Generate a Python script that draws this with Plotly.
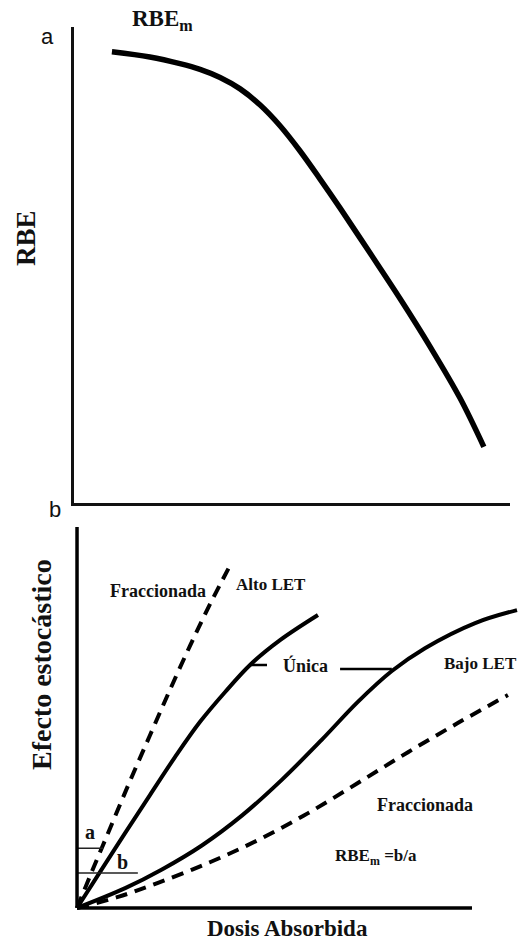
import plotly.graph_objects as go

W, H = 518, 941

# ---- Panel a: RBE versus dose (arbitrary units, 0-100) ----
rbe_dose = [8.7, 17.4, 24.3, 28.9, 33.5, 38.1, 42.7, 47.3, 51.8, 56.4, 61.0, 67.9, 74.8, 81.7, 88.5, 94.0]
rbe_val = [94.8, 93.7, 92.3, 91.1, 89.4, 87.0, 83.6, 79.2, 74.0, 68.1, 62.0, 52.5, 42.9, 32.8, 22.1, 11.8]

# ---- Panel b: stochastic effect versus absorbed dose (arbitrary units) ----
alto_frac_x = [0, 3.3, 8.4, 13.4, 18.5, 23.5, 28.6, 33.7, 39.2]
alto_frac_y = [0, 8.4, 21.0, 33.3, 45.4, 57.2, 68.8, 79.8, 90.8]

alto_unica_x = [0, 5.8, 12.2, 18.5, 24.8, 31.1, 37.5, 43.8, 51.4, 61.0]
alto_unica_y = [0, 9.4, 19.7, 29.7, 39.6, 48.8, 56.7, 63.8, 70.3, 76.9]

bajo_unica_x = [0, 12.2, 21.5, 31.6, 41.8, 51.9, 62.0, 71.1, 79.7, 88.1, 100.8, 111.4]
bajo_unica_y = [0, 5.2, 10.1, 16.4, 24.3, 33.7, 44.2, 54.1, 62.2, 68.2, 74.8, 78.2]

bajo_frac_x = [0, 10.4, 20.5, 33.2, 45.8, 58.5, 71.1, 83.8, 96.5, 109.1]
bajo_frac_y = [0, 2.9, 6.6, 11.8, 17.8, 24.9, 32.8, 40.9, 48.6, 55.9]

# reference levels a and b (effect units) and their dose extents
level_a, level_a_dose = 15.7, 6.6
level_b, level_b_dose = 9.2, 15.4

SERIF = "Liberation Serif"
SANS = "Liberation Sans"
INK = "#111111"

fig = go.Figure()

fig.add_trace(go.Scatter(x=rbe_dose, y=rbe_val, mode="lines",
                         line=dict(color="black", width=5.5, shape="spline", smoothing=1.0),
                         xaxis="x", yaxis="y", hoverinfo="skip"))

dash = "12px,8px"
curve = dict(color="black", width=4, shape="spline", smoothing=1.0)
fig.add_trace(go.Scatter(x=alto_frac_x, y=alto_frac_y, mode="lines", line=dict(curve, dash=dash), xaxis="x2", yaxis="y2"))
fig.add_trace(go.Scatter(x=alto_unica_x, y=alto_unica_y, mode="lines", line=curve, xaxis="x2", yaxis="y2"))
fig.add_trace(go.Scatter(x=bajo_unica_x, y=bajo_unica_y, mode="lines", line=curve, xaxis="x2", yaxis="y2"))
fig.add_trace(go.Scatter(x=bajo_frac_x, y=bajo_frac_y, mode="lines", line=dict(curve, dash=dash), xaxis="x2", yaxis="y2"))

# level markers a and b
fig.add_trace(go.Scatter(x=[0, level_a_dose], y=[level_a, level_a], mode="lines", line=dict(color="#222", width=1.5), xaxis="x2", yaxis="y2"))
fig.add_trace(go.Scatter(x=[0, level_b_dose], y=[level_b, level_b], mode="lines", line=dict(color="#222", width=1.5), xaxis="x2", yaxis="y2"))

# leader lines pointing from "Única" to both single-dose curves
fig.add_trace(go.Scatter(x=[43.8, 48.1], y=[63.8, 63.8], mode="lines", line=dict(color="black", width=2.5), xaxis="x2", yaxis="y2"))
fig.add_trace(go.Scatter(x=[66.6, 79.7], y=[62.7, 62.7], mode="lines", line=dict(color="black", width=2.5), xaxis="x2", yaxis="y2"))


def px_x(p):
    return p / W


def px_y(p):
    return 1 - p / H


hidden = dict(showgrid=False, zeroline=False, showticklabels=False, ticks="")

fig.update_layout(
    width=W, height=H, margin=dict(l=0, r=0, t=0, b=0),
    paper_bgcolor="white", plot_bgcolor="white", showlegend=False,
    xaxis=dict(domain=[px_x(74), px_x(510)], range=[0, 100], showline=True,
               linecolor="#111", linewidth=2.5, anchor="y", **hidden),
    yaxis=dict(domain=[px_y(503), px_y(27)], range=[0, 100], showline=True,
               linecolor="#111", linewidth=2.5, anchor="x", **hidden),
    xaxis2=dict(domain=[px_x(71.1), 1.0], range=[-1.5, 111.65], showline=False, anchor="y2", **hidden),
    yaxis2=dict(domain=[px_y(915.6), px_y(519.4)], range=[-2, 102], showline=False, anchor="x2", **hidden),
)

# bottom panel axes
fig.add_shape(type="line", xref="x2", yref="y2", x0=0, x1=100, y0=0, y1=0, line=dict(color="black", width=3.5))
fig.add_shape(type="line", xref="x2", yref="y2", x0=0, x1=0, y0=0, y1=100, line=dict(color="black", width=3.5))


def label(text, x, y, size, family=SERIF, angle=0, bold=True):
    fig.add_annotation(
        text=f"<b>{text}</b>" if bold else text,
        x=px_x(x), y=px_y(y), xref="paper", yref="paper",
        showarrow=False, textangle=angle,
        font=dict(family=family, size=size, color=INK),
        xanchor="center", yanchor="middle",
    )


label("a", 47, 37, 22, family=SANS, bold=False)
label("b", 55, 509, 22, family=SANS, bold=False)
label("RBE<sub>m</sub>", 162, 20, 23)
label("RBE", 26, 238, 27, angle=-90)

label("Efecto estocástico", 41, 665, 28, angle=-90)
label("Dosis Absorbida", 287, 928, 23)
label("Fraccionada", 158, 591, 18)
label("Alto LET", 271, 584, 17)
label("Única", 305, 665, 18)
label("Bajo LET", 480, 663, 17)
label("Fraccionada", 425, 805, 18)
label("RBE<sub>m</sub> =b/a", 376, 857, 17)
label("a", 90, 832, 20)
label("b", 122, 862, 20)

fig.write_html("out.html")
